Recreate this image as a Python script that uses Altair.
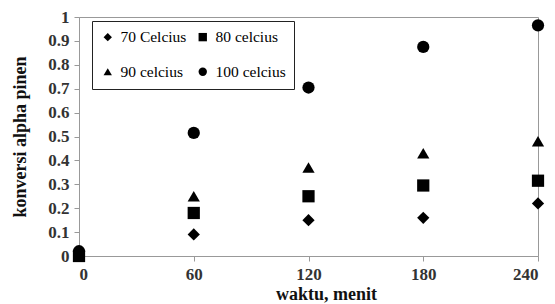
import altair as alt
import pandas as pd

times = [0, 60, 120, 180, 240]
series_names = ["70 Celcius", "80 celcius", "90 celcius", "100 celcius"]
s70 = [0.0, 0.09, 0.15, 0.16, 0.22]
s80 = [0.0, 0.18, 0.25, 0.295, 0.315]
s90 = [0.0, 0.25, 0.37, 0.43, 0.48]
s100 = [0.02, 0.515, 0.705, 0.875, 0.965]
shapes = ["diamond", "square", "triangle-up", "circle"]

rows = []
for name, vals in zip(series_names, [s70, s80, s90, s100]):
    for t, v in zip(times, vals):
        rows.append({"waktu": t, "konversi": v, "seri": name})
df = pd.DataFrame(rows)

# legend is filled column by column: reorder so rows read 70|80 and 90|100
legend_order = [series_names[0], series_names[2], series_names[1], series_names[3]]
legend_shapes = [shapes[0], shapes[2], shapes[1], shapes[3]]

font = "Liberation Serif, Times New Roman, serif"

chart = alt.Chart(df).mark_point(filled=True, opacity=1, color="black", size=150).encode(
    x=alt.X("waktu:Q", title="waktu, menit",
            scale=alt.Scale(domain=[0, 240], nice=False, zero=True),
            axis=alt.Axis(values=times, grid=False, labelFontWeight="bold",
                          labelFontSize=17, labelColor="#333", titleFontSize=18,
                          titleFontWeight="bold", titlePadding=3, labelPadding=5,
                          titleX=247, titleColor="#111",
                          tickSize=5, tickColor="#999", domainColor="#999",
                          labelFont=font, titleFont=font)),
    y=alt.Y("konversi:Q", title="konversi alpha pinen",
            scale=alt.Scale(domain=[0, 1], nice=False),
            axis=alt.Axis(values=[i / 10 for i in range(11)], grid=False,
                          labelFontWeight="bold", labelFontSize=17, labelColor="#333",
                          titleFontSize=18, titleFontWeight="bold", titlePadding=18,
                          titleColor="#111",
                          labelPadding=5, tickSize=5, tickColor="#999", domainColor="#999",
                          labelFont=font, titleFont=font,
                          labelExpr="datum.value == 0 ? '0' : datum.value == 1 ? '1' : format(datum.value, '.1f')")),
    shape=alt.Shape("seri:N", scale=alt.Scale(domain=legend_order, range=legend_shapes),
                    legend=alt.Legend(title=None, orient="none", legendX=13, legendY=4,
                                      columns=2, symbolSize=70, symbolFillColor="black",
                                      symbolStrokeColor="black",
                                      labelFontSize=15.5, labelFont=font, labelColor="black",
                                      labelFontWeight="normal", labelLimit=300,
                                      strokeColor="#222", fillColor="white", padding=8,
                                      rowPadding=18, columnPadding=8, symbolOffset=0,
                                      labelOffset=5, offset=0)),
).properties(width=459, height=239,
             padding={"left": 3, "top": 0, "right": 0, "bottom": 0}).configure(font=font).configure_view(
    stroke="#999", strokeWidth=1
).configure_legend(labelFont=font)

chart.save("out.html", embed_options={"renderer": "svg", "actions": False})
